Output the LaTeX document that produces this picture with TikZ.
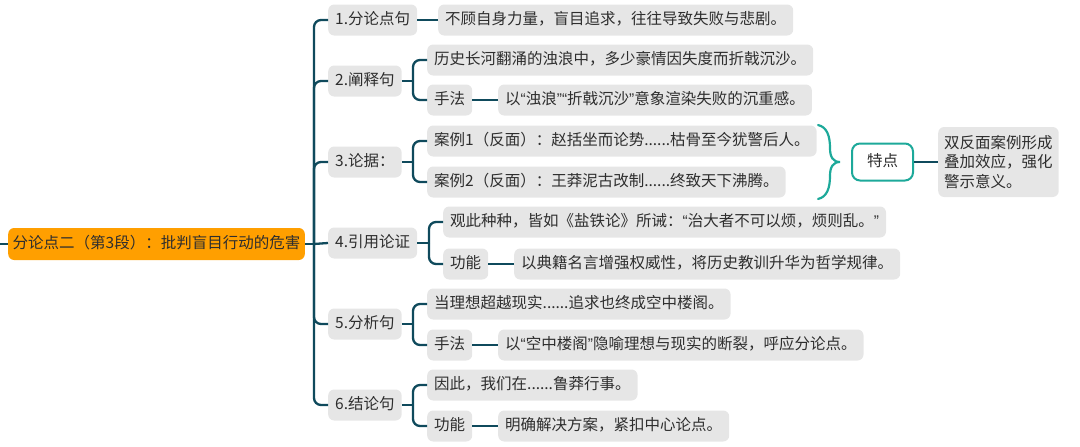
\documentclass[tikz,border=0pt]{standalone}
\usepackage{fontspec}
\setmainfont{Noto Sans CJK SC}
\newfontfamily\qfont{Liberation Sans}
\newcommand\myoq{{\qfont “}}
\newcommand\mycq{{\qfont ”}}
\definecolor{connc}{HTML}{0F4A5C}
\definecolor{boxgray}{HTML}{E6E6E6}
\definecolor{rootor}{HTML}{FF9F00}
\definecolor{tealc}{HTML}{1DA99A}
\definecolor{txtc}{HTML}{2E2E2E}
\tikzset{
  conn/.style={draw=connc, line width=2.3pt, rounded corners=7pt},
  gbox/.style={fill=boxgray, rounded corners=6pt, inner xsep=7pt, inner ysep=0pt,
    minimum height=31pt, text height=12pt, text depth=3.5pt, anchor=west,
    font=\fontsize{15.5}{19.5}\selectfont, text=txtc},
  rootbox/.style={gbox, fill=rootor, minimum height=32pt, inner xsep=4.5pt},
  tealbox/.style={gbox, fill=white, draw=tealc, line width=2pt, rounded corners=8pt,
    minimum height=37pt, minimum width=61pt},
  multibox/.style={gbox, align=left, text height=, text depth=, minimum height=70pt,
    inner xsep=6pt}
}
\begin{document}
\begin{tikzpicture}[x=1pt,y=-1pt]
\useasboundingbox (0,0) rectangle (1080,447);
% root and level 1
\node[rootbox] (root) at (8,244) {分论点二（第3段）：批判盲目行动的危害};
\node[gbox] (b1) at (328,20) {1.分论点句};
\node[gbox] (b2) at (328,81) {2.阐释句};
\node[gbox] (b3) at (328,162) {3.论据：};
\node[gbox] (b4) at (328,243) {4.引用论证};
\node[gbox] (b5) at (328,324) {5.分析句};
\node[gbox] (b6) at (328,405) {6.结论句};
% leaves
\node[gbox] (l1) at (438,20) {不顾自身力量，盲目追求，往往导致失败与悲剧。};
\node[gbox] (l21) at (427,60) {历史长河翻涌的浊浪中，多少豪情因失度而折戟沉沙。};
\node[gbox] (m2) at (427,100) {手法};
\node[gbox] (l22) at (498,100) {以\myoq 浊浪\mycq\myoq 折戟沉沙\mycq 意象渲染失败的沉重感。};
\node[gbox] (l31) at (427,141) {案例1（反面）：赵括坐而论势......枯骨至今犹警后人。};
\node[gbox] (l32) at (427,182) {案例2（反面）：王莽泥古改制......终致天下沸腾。};
\node[tealbox] (td) at (851,162) {特点};
\node[multibox] (sf) at (938,162) {双反面案例形成\\叠加效应，强化\\警示意义。};
\node[gbox] (l41) at (443,222) {观此种种，皆如《盐铁论》所诫：\myoq 治大者不可以烦，烦则乱。\mycq};
\node[gbox] (m4) at (443,264) {功能};
\node[gbox] (l42) at (514,264) {以典籍名言增强权威性，将历史教训升华为哲学规律。};
\node[gbox] (l51) at (427,304) {当理想超越现实......追求也终成空中楼阁。};
\node[gbox] (m5) at (427,345) {手法};
\node[gbox] (l52) at (498,345) {以\myoq 空中楼阁\mycq 隐喻理想与现实的断裂，呼应分论点。};
\node[gbox] (l61) at (427,385) {因此，我们在......鲁莽行事。};
\node[gbox] (m6) at (427,426) {功能};
\node[gbox] (l62) at (498,426) {明确解决方案，紧扣中心论点。};
% junction coordinates
\coordinate (stub) at (0,244);
\coordinate (j0) at (314,244);
\coordinate (j2) at (413,81);
\coordinate (j3) at (413,162);
\coordinate (j4) at (429,243);
\coordinate (j5) at (413,324);
\coordinate (j6) at (413,405);
% trunk
\draw[conn] (stub) -- (root.west);
\draw[conn] (root.east) -- (j0);
\foreach \b in {b1,b2,b3,b5,b6} { \draw[conn] (j0) |- (\b.west); }
\draw[conn] (j0) -- (b4.west);
% level 2
\draw[conn] (b1.east) -- (l1.west);
\draw[conn] (b2.east) -- (j2);
\draw[conn] (j2) |- (l21.west);
\draw[conn] (j2) |- (m2.west);
\draw[conn] (m2.east) -- (l22.west);
\draw[conn] (b3.east) -- (j3);
\draw[conn] (j3) |- (l31.west);
\draw[conn] (j3) |- (l32.west);
\draw[conn] (b4.east) -- (j4);
\draw[conn] (j4) |- (l41.west);
\draw[conn] (j4) |- (m4.west);
\draw[conn] (m4.east) -- (l42.west);
\draw[conn] (b5.east) -- (j5);
\draw[conn] (j5) |- (l51.west);
\draw[conn] (j5) |- (m5.west);
\draw[conn] (m5.east) -- (l52.west);
\draw[conn] (b6.east) -- (j6);
\draw[conn] (j6) |- (l61.west);
\draw[conn] (j6) |- (m6.west);
\draw[conn] (m6.east) -- (l62.west);
% brace to 特点
\draw[draw=tealc, line width=2.2pt, line cap=round]
  (818,125) .. controls (827,127) and (830,136) .. (830,148)
  .. controls (830,157) and (833,162) .. (840,162)
  .. controls (833,162) and (830,167) .. (830,176)
  .. controls (830,188) and (827,197) .. (818,199);
\draw[conn] (td.east) -- (sf.west);
\end{tikzpicture}
\end{document}
